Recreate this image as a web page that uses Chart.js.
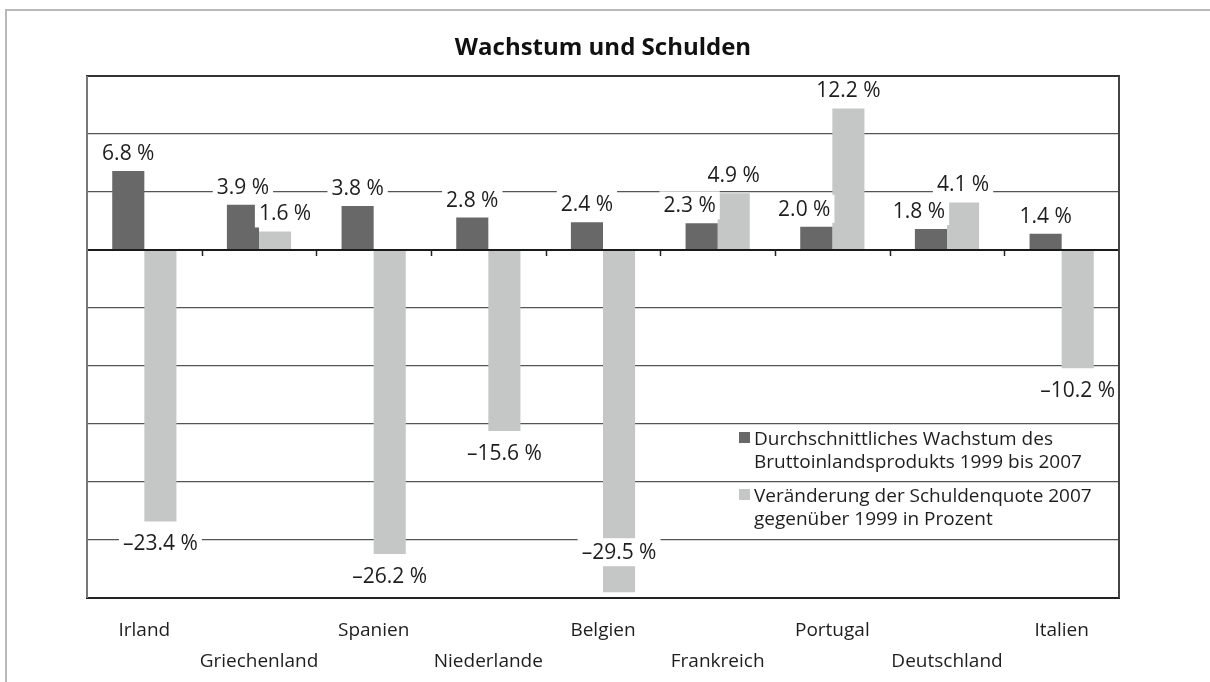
<!DOCTYPE html>
<html lang="de">
<head>
<meta charset="utf-8">
<title>Wachstum und Schulden</title>
<script src="https://cdn.jsdelivr.net/npm/chart.js@4.4.1/dist/chart.umd.min.js"></script>
<style>
  html, body { margin: 0; padding: 0; background: #fff; }
  #wrap { position: relative; width: 1210px; height: 682px; overflow: hidden; }
  #rahmen { position: absolute; left: 5px; top: 9px; width: 1300px; height: 800px;
            border-top: 2px solid #b9b9b9; border-left: 2px solid #b9b9b9; }
  canvas { position: absolute; left: 0; top: 0; }
</style>
</head>
<body>
<div id="wrap">
  <div id="rahmen"></div>
  <canvas id="grafik"></canvas>
</div>
<script>
// Daten
const laender = ["Irland", "Griechenland", "Spanien", "Niederlande", "Belgien",
                 "Frankreich", "Portugal", "Deutschland", "Italien"];
const wachstum = [6.8, 3.9, 3.8, 2.8, 2.4, 2.3, 2.0, 1.8, 1.4];
const schulden = [-23.4, 1.6, -26.2, -15.6, -29.5, 4.9, 12.2, 4.1, -10.2];
const reihenNamen = [
    "Durchschnittliches Wachstum des Bruttoinlandsprodukts 1999 bis 2007",
    "Veränderung der Schuldenquote 2007 gegenüber 1999 in Prozent"
];
const legendeZeilen = [
    ["Durchschnittliches Wachstum des", "Bruttoinlandsprodukts 1999 bis 2007"],
    ["Veränderung der Schuldenquote 2007", "gegenüber 1999 in Prozent"]
];
const yMin = -30, yMax = 15, yStep = 5;

const FONT = "'Open Sans', 'Noto Sans', sans-serif";
const DUNKEL = "#686868";
const HELL = "#c5c7c6";
const TEXT = "#1e1e1e";

function formatWert(v) {
    const s = Math.abs(v).toFixed(1) + " %";
    return v < 0 ? "\u2013" + s : s;
}

function linie(ctx, x1, y1, x2, y2, farbe) {
    ctx.strokeStyle = farbe;
    ctx.beginPath();
    ctx.moveTo(x1, y1);
    ctx.lineTo(x2, y2);
    ctx.stroke();
}

// Teilstriche an der Nulllinie, Werte, Legende und Rahmen
const extras = {
    id: "extras",
    afterDatasetsDraw(chart) {
        const ctx = chart.ctx;
        const area = chart.chartArea;
        const x = chart.scales.x;
        const y = chart.scales.y;
        const y0 = y.getPixelForValue(0);

        ctx.save();
        // Teilstriche zwischen den Ländern
        ctx.lineWidth = 1.5;
        for (let i = 0; i < laender.length - 1; i++) {
            const xp = Math.round((x.getPixelForValue(i) + x.getPixelForValue(i + 1)) / 2) + 0.5;
            linie(ctx, xp, y0, xp, y0 + 6, "#222");
        }

        // Wertebeschriftung mit weißem Hintergrund
        ctx.font = "21px " + FONT;
        ctx.textAlign = "center";
        ctx.textBaseline = "middle";
        const reihen = [wachstum, schulden];
        reihen.forEach((werte, d) => {
            const meta = chart.getDatasetMeta(d);
            meta.data.forEach((bar, i) => {
                const v = werte[i];
                const anderer = reihen[1 - d][i];
                let lx = bar.x;
                let ly;
                if (v >= 0) {
                    ly = bar.y - 18;
                    // niedrigeres Label etwas nach außen schieben
                    if (anderer > 0 && v < anderer) lx += d === 0 ? -12 : 10;
                } else {
                    ly = bar.y + 22;
                    if (ly + 14 > area.bottom) ly = bar.y - 40;
                }
                const txt = formatWert(v);
                const w = ctx.measureText(txt).width + 8;
                ctx.fillStyle = "#fff";
                ctx.fillRect(lx - w / 2, ly - 14, w, 28);
                ctx.fillStyle = TEXT;
                ctx.fillText(txt, lx, ly + 1);
            });
        });

        // Legende
        const farben = [DUNKEL, HELL];
        const lx = area.right - 380;
        const zeilenY = [[area.bottom - 158, area.bottom - 135], [area.bottom - 101, area.bottom - 78]];
        ctx.font = "19px " + FONT;
        ctx.textAlign = "left";
        legendeZeilen.forEach((zeilen, k) => {
            ctx.fillStyle = farben[k];
            ctx.fillRect(lx, zeilenY[k][0] - 8, 11, 11);
            ctx.fillStyle = TEXT;
            zeilen.forEach((z, j) => ctx.fillText(z, lx + 15, zeilenY[k][j]));
        });

        // Rahmen des Diagrammbereichs
        ctx.lineWidth = 2;
        const t = Math.round(area.top), b = Math.round(area.bottom);
        linie(ctx, area.left - 1, t, area.right + 1, t, "#333");
        linie(ctx, area.left - 1, b, area.right + 1, b, "#222");
        linie(ctx, area.left, t, area.left, b, "#777");
        linie(ctx, area.right, t, area.right, b, "#444");
        ctx.restore();
    }
};

const ctx = document.getElementById("grafik").getContext("2d");
const grafik = new Chart(ctx, {
    type: "bar",
    data: {
        labels: laender,
        datasets: [{
            label: reihenNamen[0],
            data: wachstum,
            backgroundColor: DUNKEL
        }, {
            label: reihenNamen[1],
            data: schulden,
            backgroundColor: HELL
        }]
    },
    options: {
        responsive: true,
        maintainAspectRatio: false,
        animation: false,
        devicePixelRatio: 1,
        layout: {
            padding: { left: 87, right: 91, top: 0, bottom: 0 }
        },
        datasets: {
            bar: {
                categoryPercentage: 0.56,
                barPercentage: 1.0,
                borderWidth: 0
            }
        },
        plugins: {
            legend: { display: false },
            tooltip: { enabled: false },
            title: {
                display: true,
                text: "Wachstum und Schulden",
                color: "#111",
                font: { family: FONT, size: 24, weight: "bold", lineHeight: 1.2 },
                padding: { top: 34, bottom: 13.2 }
            }
        },
        scales: {
            x: {
                grid: { display: false, drawTicks: false },
                border: { display: false },
                afterFit: (scale) => { scale.height = 84; },
                ticks: {
                    autoSkip: false,
                    maxRotation: 0,
                    padding: 17,
                    color: TEXT,
                    font: { family: FONT, size: 19, lineHeight: 1.63 },
                    callback: function(value, index) {
                        const name = this.getLabelForValue(value);
                        return index % 2 ? ["", name] : [name, ""];
                    }
                }
            },
            y: {
                min: yMin,
                max: yMax,
                ticks: { display: false, stepSize: yStep },
                border: { display: false },
                grid: {
                    drawTicks: false,
                    color: (c) => c.tick.value === 0 ? "#1a1a1a" : "#555",
                    lineWidth: (c) => c.tick.value === 0 ? 2 : 1.3
                }
            }
        }
    },
    plugins: [extras]
});
</script>
</body>
</html>
